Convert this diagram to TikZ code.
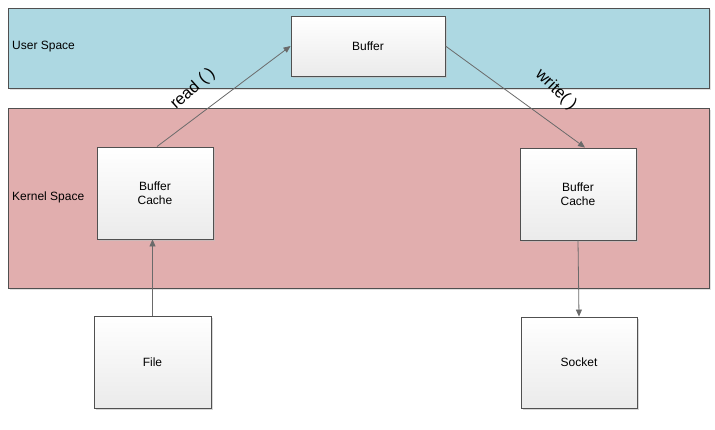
\documentclass[tikz,border=0pt]{standalone}
\usepackage{fontspec}
\setmainfont{Liberation Sans}
\usetikzlibrary{arrows.meta,shadows}
\definecolor{userblue}{HTML}{ADD8E2}
\definecolor{kernelred}{HTML}{E1AEAE}
\definecolor{edgegray}{HTML}{505050}
\tikzset{
  band/.style={draw=edgegray, line width=0.9pt},
  box/.style={draw=edgegray, line width=0.9pt, rectangle, top color=white, bottom color=black!8,
    drop shadow={shadow xshift=1.5pt, shadow yshift=-1.5pt, fill=black!25, opacity=0.6},
    font=\fontsize{12}{14}\selectfont, align=center, inner sep=0pt},
  conn/.style={draw=edgegray!85, line width=0.8pt, -{Triangle[length=7pt,width=6pt]}},
  bandlabel/.style={anchor=west, font=\fontsize{12}{14}\selectfont, inner sep=0pt},
  arrowlabel/.style={font=\fontsize{16.5}{18}\selectfont, inner sep=0pt}
}
\begin{document}
\begin{tikzpicture}[x=1pt,y=-1pt]
\useasboundingbox (0,0) rectangle (715,429);
\fill[white] (0,0) rectangle (715,429);
% bands
\fill[black!12] (10,10) rectangle (711,90);
\filldraw[band, fill=userblue] (8,8) rectangle (709,88);
\fill[black!12] (10,110) rectangle (711,290);
\filldraw[band, fill=kernelred] (8,108) rectangle (709,288);
\node[bandlabel] (ul) at (12,47) {User Space};
\node[bandlabel] (kl) at (12,197) {Kernel Space};
% nodes
\node[box, minimum width=154pt, minimum height=60pt] (buf) at (368,46) {Buffer};
\node[box, minimum width=116pt, minimum height=92pt] (lbc) at (155,193) {Buffer\\Cache};
\node[box, minimum width=116pt, minimum height=92pt] (rbc) at (578,194) {Buffer\\Cache};
\node[box, minimum width=117pt, minimum height=92pt] (file) at (152.5,362) {File};
\node[box, minimum width=116pt, minimum height=91pt] (sock) at (579,362.5) {Socket};
% connectors
\draw[conn] ([xshift=2pt]lbc.north) -- (buf.west);
\draw[conn] (buf.east) -- ([xshift=7pt]rbc.north);
\draw[conn] (file.north) -- (file.north |- lbc.south);
\draw[conn] (rbc.south) -- (sock.north);
% labels
\node[arrowlabel, rotate=42] (rl) at (193,89) {read ( )};
\node[arrowlabel, rotate=-44] (wl) at (556,90) {write( )};
\end{tikzpicture}
\end{document}
